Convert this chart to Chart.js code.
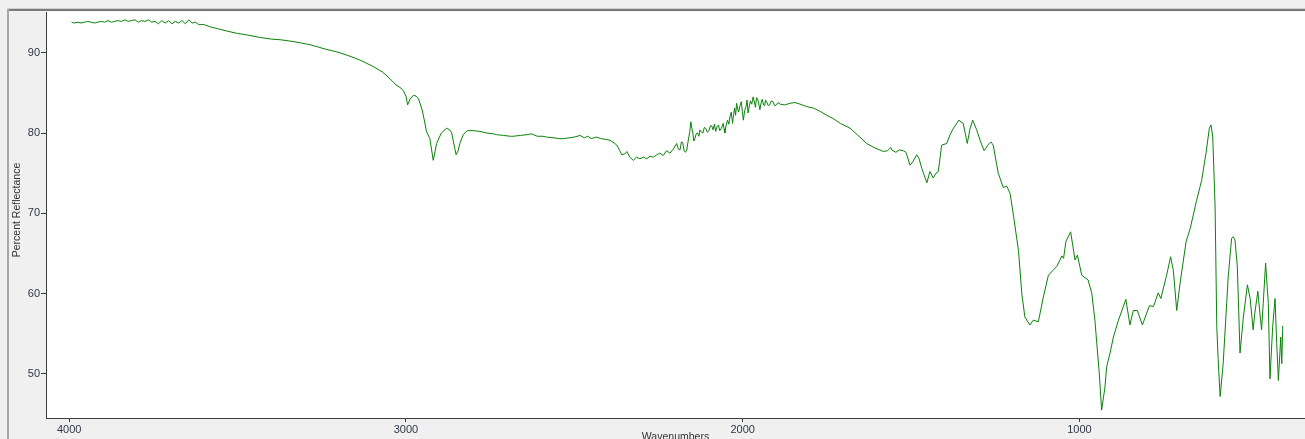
<!DOCTYPE html>
<html>
<head>
<meta charset="utf-8">
<script src="https://cdn.jsdelivr.net/npm/chart.js@4/dist/chart.umd.min.js"></script>
<style>
  html, body { margin: 0; padding: 0; background: #f0f0f0; }
  #wrap { position: relative; width: 1305px; height: 439px; }
</style>
</head>
<body>
<div id="wrap"><canvas id="spectrum" width="1305" height="439"></canvas></div>
<script>
// IR reflectance spectrum: wavenumber (cm-1) and percent reflectance
const wavenumbers = [
  3993, 3985, 3975, 3965, 3955, 3945, 3935, 3925, 3915, 3905,
  3895, 3885, 3875, 3865, 3855, 3845, 3835, 3825, 3815, 3805,
  3795, 3785, 3775, 3765, 3755, 3745, 3735, 3725, 3715, 3705,
  3695, 3685, 3675, 3665, 3655, 3645, 3635, 3625, 3615, 3600,
  3580, 3560, 3532, 3500, 3470, 3434, 3400, 3370, 3336, 3310,
  3285, 3260, 3235, 3205, 3175, 3137, 3098, 3070, 3056, 3039,
  3030, 3015, 3008, 3000, 2995, 2988, 2978, 2970, 2963, 2952,
  2945, 2939, 2929, 2919, 2913, 2909, 2895, 2879, 2870, 2864,
  2857, 2851, 2845, 2840, 2830, 2818, 2800, 2780, 2760, 2740,
  2731, 2710, 2690, 2681, 2660, 2640, 2627, 2610, 2595, 2582,
  2560, 2545, 2533, 2515, 2500, 2483, 2470, 2460, 2450, 2434,
  2420, 2405, 2394, 2380, 2374, 2365, 2359, 2350, 2344, 2335,
  2325, 2315, 2305, 2295, 2285, 2275, 2265, 2255, 2246, 2236,
  2226, 2216, 2206,
  2196, 2191, 2186, 2182, 2178, 2174, 2170, 2166, 2162, 2157,
  2154, 2151, 2148, 2145, 2142, 2138, 2134, 2130, 2127, 2122,
  2118, 2114, 2110, 2105, 2100, 2096, 2092, 2088, 2084, 2080,
  2076, 2072, 2068, 2063, 2058, 2055, 2053, 2049, 2045, 2041,
  2038, 2034, 2030, 2027, 2024, 2021, 2018, 2015, 2012, 2008,
  2004, 2001, 1998, 1994, 1990, 1987, 1984, 1980, 1977, 1973,
  1969, 1966, 1962, 1959, 1956, 1952, 1949, 1945, 1942, 1938,
  1935, 1932, 1929, 1924, 1920, 1915, 1910, 1905, 1900, 1895,
  1889, 1875, 1860, 1845, 1830,
  1810, 1790, 1770, 1750, 1731, 1710, 1681, 1660, 1632, 1610,
  1582, 1570, 1560, 1557, 1545, 1535, 1523, 1515, 1503, 1495,
  1483, 1476, 1468, 1453, 1444, 1434, 1426, 1419, 1409, 1394,
  1384, 1374, 1358, 1345, 1333, 1325, 1317, 1305, 1295, 1283,
  1270, 1263, 1256, 1241, 1226, 1216, 1206, 1196, 1181, 1171,
  1162, 1147, 1137, 1122, 1107, 1092, 1067, 1052, 1047, 1040,
  1026, 1013, 1006, 993, 974, 963, 954, 941, 934, 924,
  919, 909, 899, 884, 862, 850, 840, 828, 813, 792,
  780, 766, 758, 741, 729, 721, 711, 701, 683, 671,
  652, 637, 624, 614, 609, 604, 597, 592, 588, 582,
  573, 558, 548, 543, 538, 531, 523, 513, 501, 493,
  484, 479, 470, 464, 459, 454, 447, 439, 434, 426,
  419, 414, 409, 402, 399, 396
];
const reflectance = [
  93.8, 93.7, 93.8, 93.7, 93.8, 93.9, 93.8, 93.7, 93.8, 93.9,
  93.8, 94.0, 93.8, 93.9, 94.0, 93.9, 94.1, 93.9, 94.0, 94.1,
  93.8, 94.0, 93.9, 94.1, 93.8, 93.9, 93.6, 94.0, 93.7, 94.0,
  93.6, 93.9, 93.7, 94.0, 93.6, 94.1, 93.7, 93.8, 93.5, 93.5,
  93.2, 93.0, 92.7, 92.4, 92.2, 91.9, 91.7, 91.6, 91.4, 91.2,
  91.0, 90.7, 90.4, 90.1, 89.7, 89.1, 88.3, 87.6, 87.1, 86.4,
  86.0, 85.6, 85.3, 84.6, 83.5, 84.2, 84.7, 84.6, 84.3, 82.9,
  81.5, 80.2, 79.3, 76.6, 77.8, 78.7, 80.0, 80.6, 80.4, 80.0,
  78.5, 77.3, 77.8, 78.7, 79.8, 80.3, 80.3, 80.2, 80.0, 79.9,
  79.8, 79.7, 79.6, 79.6, 79.7, 79.8, 79.9, 79.6, 79.6, 79.5,
  79.4, 79.3, 79.3, 79.4, 79.5, 79.7, 79.4, 79.6, 79.3, 79.5,
  79.3, 79.2, 79.1, 78.7, 78.5, 77.8, 77.3, 77.4, 77.7, 77.0,
  76.6, 77.0, 76.8, 77.0, 76.8, 77.1, 77.0, 77.3, 77.5, 77.2,
  77.8, 77.5, 78.0,
  78.7, 78.0, 77.9, 78.9, 78.8, 77.8, 77.6, 77.9, 79.0, 80.2,
  81.4, 80.6, 80.0, 79.0, 79.3, 79.9, 80.0, 79.6, 80.4, 80.1,
  80.0, 80.7, 80.6, 80.1, 80.3, 80.9, 80.9, 80.4, 81.1, 80.2,
  80.8, 81.0, 80.3, 80.6, 81.2, 80.5, 80.0, 81.0, 81.6, 81.1,
  82.0, 82.6, 81.2, 82.3, 83.1, 82.2, 83.7, 83.0, 82.6, 83.4,
  83.9, 82.7, 81.6, 82.8, 83.3, 84.1, 82.5, 83.4, 84.0, 83.6,
  84.5, 84.0, 83.2, 84.4, 84.3, 83.6, 82.9, 83.8, 84.2, 83.5,
  83.4, 84.1, 83.9, 83.4, 83.5, 84.0, 83.9, 83.4, 83.5, 83.8,
  83.6, 83.5, 83.7, 83.8, 83.6,
  83.3, 83.1, 82.7, 82.2, 81.8, 81.2, 80.6, 79.8, 78.7, 78.2,
  77.7, 77.8, 78.2, 77.9, 77.6, 77.9, 77.8, 77.6, 76.0, 76.4,
  77.3, 76.8, 75.6, 73.8, 75.2, 74.4, 75.0, 75.2, 78.5, 78.7,
  79.8, 80.6, 81.6, 81.2, 78.7, 80.5, 81.6, 80.4, 79.1, 77.8,
  78.6, 78.9, 78.5, 75.0, 73.2, 73.4, 72.5, 69.8, 65.4, 60.0,
  57.1, 56.1, 56.7, 56.5, 59.6, 62.3, 63.4, 64.7, 64.4, 66.5,
  67.7, 64.2, 64.8, 62.3, 61.7, 60.0, 56.7, 50.1, 45.5, 48.4,
  50.9, 52.6, 54.6, 56.7, 59.3, 56.1, 57.9, 57.9, 56.1, 58.5,
  58.4, 60.1, 59.4, 62.3, 64.6, 62.9, 57.9, 61.3, 66.5, 68.1,
  71.6, 74.1, 77.5, 80.6, 81.0, 79.5, 70.8, 55.9, 51.9, 47.2,
  51.3, 62.1, 66.9, 67.1, 66.7, 63.4, 52.6, 57.1, 61.1, 59.4,
  55.5, 57.6, 60.3, 57.6, 55.5, 58.8, 63.8, 58.8, 49.4, 55.9,
  59.4, 53.8, 49.2, 54.6, 51.3, 56.0
];

// Axis ticks
const xTickValues = [4000, 3000, 2000, 1000];
const yTickValues = [50, 60, 70, 80, 90];

const points = wavenumbers.map((w, i) => ({ x: w, y: reflectance[i] }));

const tickFont = { family: "'Liberation Sans', Arial, sans-serif", size: 11 };
const tickColor = '#2e3646';
const axisColor = '#3c3c3c';

// Window-style frame, white plotting area and axis titles
const framePlugin = {
  id: 'frame',
  beforeDraw(chart) {
    const { ctx, chartArea: a, width, height } = chart;
    ctx.save();
    ctx.fillStyle = '#f0f0f0';
    ctx.fillRect(0, 0, width, height);
    ctx.fillStyle = '#ffffff';
    ctx.fillRect(a.left, a.top, a.right - a.left, a.bottom - a.top);
    // top rule
    ctx.fillStyle = '#d0d0d0';
    ctx.fillRect(7, 8, width - 7, 1);
    ctx.fillStyle = '#7a7a7a';
    ctx.fillRect(7, 9, width - 7, 2);
    // left rule
    ctx.fillStyle = '#a8a8a8';
    ctx.fillRect(7, 9, 2, height - 9);
    ctx.restore();
  },
  afterDraw(chart) {
    const { ctx, chartArea: a } = chart;
    ctx.save();
    ctx.fillStyle = '#333333';
    ctx.font = "10.5px 'Liberation Sans', Arial, sans-serif";
    ctx.textAlign = 'center';
    ctx.textBaseline = 'middle';
    ctx.fillText('Wavenumbers', (a.left + a.right) / 2, 437);
    ctx.translate(17, 210);
    ctx.rotate(-Math.PI / 2);
    ctx.fillText('Percent Reflectance', 0, 0);
    ctx.restore();
  }
};

new Chart(document.getElementById('spectrum'), {
  type: 'line',
  data: {
    datasets: [{
      data: points,
      borderColor: '#0a820a',
      borderWidth: 1,
      pointRadius: 0,
      tension: 0,
      fill: false
    }]
  },
  options: {
    responsive: false,
    animation: false,
    events: [],
    layout: { padding: { top: 12, left: 0, right: 0, bottom: 0 } },
    plugins: { legend: { display: false }, tooltip: { enabled: false } },
    scales: {
      x: {
        type: 'linear',
        reverse: true,
        min: 330,
        max: 4069,
        afterBuildTicks: s => { s.ticks = xTickValues.map(v => ({ value: v })); },
        afterFit: s => { s.height = 21; },
        ticks: { color: tickColor, font: tickFont, padding: 1, maxRotation: 0, autoSkip: false,
                 callback: v => String(v) },
        grid: { drawOnChartArea: false, drawTicks: true, tickLength: 4, color: axisColor },
        border: { display: true, color: axisColor, width: 1 }
      },
      y: {
        type: 'linear',
        min: 44.52,
        max: 95.07,
        afterBuildTicks: s => { s.ticks = yTickValues.map(v => ({ value: v })); },
        afterFit: s => { s.width = 46; },
        ticks: { color: tickColor, font: tickFont, padding: 1, callback: v => String(v) },
        grid: { drawOnChartArea: false, drawTicks: true, tickLength: 5, color: axisColor },
        border: { display: true, color: axisColor, width: 1 }
      }
    }
  },
  plugins: [framePlugin]
});
</script>
</body>
</html>
